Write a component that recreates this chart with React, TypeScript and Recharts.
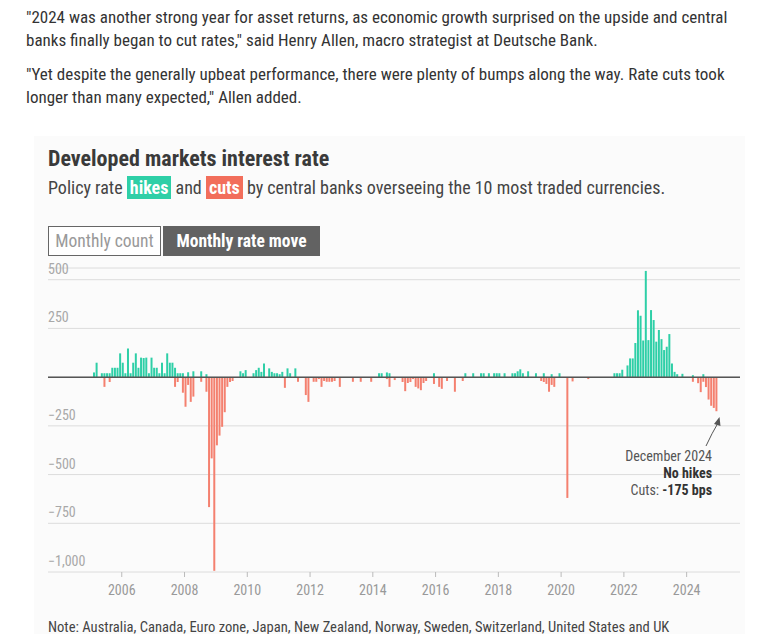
import React from 'react';
import { BarChart, Bar, XAxis, YAxis, CartesianGrid, ReferenceLine } from 'recharts';

// monthly policy-rate moves (bps), summed across the 10 central banks
const hikes2005 = [0, 24, 74, 0, 20, 20, 20, 20, 48, 48, 48, 122];
const cuts2005 = [0, 0, 0, 0, 0, -50, 0, -25, 0, 0, 0, 0];
const hikes2006 = [74, 20, 147, 20, 74, 122, 48, 100, 98, 100, 20, 100];
const cuts2006 = [0, 0, 0, 0, 0, 0, 0, 0, 0, 0, 0, 0];
const hikes2007 = [48, 48, 20, 74, 20, 122, 74, 74, 48, 20, 20, 20];
const cuts2007 = [0, 0, 0, 0, 0, 0, 0, 0, -50, -25, 0, -80];
const hikes2008 = [0, 25, 0, 30, 0, 0, 30, 0, 15, 0, 0, 0];
const cuts2008 = [-152, -40, -127, -100, 0, 0, -24, 0, -75, -667, -417, -994];
const hikes2009 = [0, 0, 0, 0, 0, 0, 0, 0, 0, 30, 20, 36];
const cuts2009 = [-350, -300, -255, -180, -50, -25, -20, 0, 0, 0, 0, 0];
const hikes2010 = [0, 0, 20, 36, 48, 27, 70, 0, 45, 27, 20, 20];
const cuts2010 = [0, 0, 0, 0, 0, 0, 0, 0, 0, 0, 0, 0];
const hikes2011 = [15, 27, 0, 45, 20, 0, 45, 0, 0, 0, 0, 0];
const cuts2011 = [0, 0, -55, 0, 0, 0, 0, -24, 0, 0, -92, -127];
const hikes2012 = [0, 0, 0, 0, 0, 0, 0, 0, 0, 0, 0, 0];
const cuts2012 = [0, -24, -24, -10, -50, -20, -24, -24, -24, -20, 0, -50];
const hikes2013 = [0, 0, 0, 0, 0, 0, 0, 0, 0, 0, 0, 0];
const cuts2013 = [0, 0, 0, 0, -24, 0, 0, -24, 0, 0, 0, -24];
const hikes2014 = [0, 0, 20, 20, 0, 24, 20, 0, 0, 0, 0, 0];
const cuts2014 = [0, 0, 0, 0, 0, -10, -50, 0, -15, 0, 0, -25];
const hikes2015 = [0, 0, 0, 0, 0, 0, 0, 0, 0, 0, 0, 20];
const cuts2015 = [-72, -30, -25, -10, -50, -58, -67, -30, -20, 0, 0, -35];
const hikes2016 = [0, 0, 0, 0, 0, 0, 0, 0, 0, 0, 0, 20];
const cuts2016 = [0, -50, -60, 0, -20, 0, 0, -75, 0, 0, -20, 0];
const hikes2017 = [0, 0, 20, 0, 0, 20, 20, 0, 20, 0, 20, 20];
const cuts2017 = [0, 0, 0, 0, 0, 0, 0, 0, 0, 0, 0, 0];
const hikes2018 = [20, 0, 20, 0, 0, 20, 20, 30, 40, 20, 0, 30];
const cuts2018 = [0, 0, 0, 0, 0, 0, 0, 0, 0, 0, 0, 0];
const hikes2019 = [0, 0, 20, 0, 0, 20, 0, 0, 15, 0, 0, 20];
const cuts2019 = [0, 0, 0, 0, -20, -25, -35, -75, -40, -50, 0, 0];
const hikes2020 = [0, 0, 0, 0, 0, 0, 0, 0, 0, 0, 0, 0];
const cuts2020 = [0, 0, -620, 0, -22, 0, 0, 0, 0, 0, -10, 0];
const hikes2021 = [0, 0, 0, 0, 0, 0, 0, 0, 20, 20, 20, 38];
const cuts2021 = [0, 0, 0, 0, 0, 0, 0, 0, 0, 0, 0, 0];
const hikes2022 = [0, 60, 96, 96, 175, 343, 315, 188, 545, 190, 344, 293];
const cuts2022 = [0, 0, 0, 0, 0, 0, 0, 0, 0, 0, 0, 0];
const hikes2023 = [182, 242, 195, 139, 156, 221, 70, 27, 15, 0, 17, 0];
const cuts2023 = [0, 0, 0, 0, 0, 0, 0, 0, 0, 0, 0, 0];
const hikes2024 = [0, 0, 10, 0, 0, 0, 15, 0, 0, 0, 0, 0];
const cuts2024 = [0, 0, -24, 0, -31, -77, -24, -51, -115, -147, -158, -175];

const years = [
  [2005, hikes2005, cuts2005], [2006, hikes2006, cuts2006], [2007, hikes2007, cuts2007],
  [2008, hikes2008, cuts2008], [2009, hikes2009, cuts2009], [2010, hikes2010, cuts2010],
  [2011, hikes2011, cuts2011], [2012, hikes2012, cuts2012], [2013, hikes2013, cuts2013],
  [2014, hikes2014, cuts2014], [2015, hikes2015, cuts2015], [2016, hikes2016, cuts2016],
  [2017, hikes2017, cuts2017], [2018, hikes2018, cuts2018], [2019, hikes2019, cuts2019],
  [2020, hikes2020, cuts2020], [2021, hikes2021, cuts2021], [2022, hikes2022, cuts2022],
  [2023, hikes2023, cuts2023], [2024, hikes2024, cuts2024],
] as [number, number[], number[]][];

const xTicks = [2006, 2008, 2010, 2012, 2014, 2016, 2018, 2020, 2022, 2024];
const yTicks = [500, 250, 0, -250, -500, -750, -1000];

const data = years.flatMap(([yr, h, c]) =>
  h.map((v, i) => ({ t: yr + (i + 0.5) / 12, hikes: v, cuts: c[i] }))
);

const HIKE = '#2ecfa7';
const CUT = '#f4806f';
const FONT = "'Liberation Sans Narrow', 'Roboto Condensed', Roboto, sans-serif";

const fmt = (v: number) => (v < 0 ? '\u2212' : '') + Math.abs(v).toLocaleString('en-US');

const renderYTick = (props: any) => {
  const { y, payload } = props;
  if (payload.value === 0) return <g />;
  return (
    <text x={48} y={y - 6} fill="#a8a8a8" fontSize={14} fontFamily={FONT} textAnchor="start">
      {fmt(payload.value)}
    </text>
  );
};

export default function App() {
  return (
    <div style={{ position: 'relative', width: 757, height: 642, margin: -8, background: '#fff', fontFamily: FONT, color: '#333', overflow: 'hidden' }}>
      <div style={{ position: 'absolute', left: 26, top: 6, width: 720, fontSize: 17, lineHeight: '23px' }}>
        "2024 was another strong year for asset returns, as economic growth surprised on the upside and central banks finally began to cut rates," said Henry Allen, macro strategist at Deutsche Bank.
      </div>
      <div style={{ position: 'absolute', left: 26, top: 63, width: 720, fontSize: 17, lineHeight: '23px' }}>
        "Yet despite the generally upbeat performance, there were plenty of bumps along the way. Rate cuts took longer than many expected," Allen added.
      </div>

      <div style={{ position: 'absolute', left: 34, top: 136, width: 711, height: 506, background: '#fbfbfb' }} />

      <div style={{ position: 'absolute', left: 48, top: 146, fontSize: 22, fontWeight: 700, color: '#3a3a3a' }}>
        Developed markets interest rate
      </div>
      <div style={{ position: 'absolute', left: 48, top: 176, fontSize: 18, lineHeight: '24px', color: '#444' }}>
        Policy rate{' '}
        <span style={{ background: HIKE, color: '#fff', fontWeight: 700, padding: '1px 3px' }}>hikes</span> and{' '}
        <span style={{ background: '#f26e5b', color: '#fff', fontWeight: 700, padding: '1px 3px' }}>cuts</span> by central banks overseeing the 10 most traded currencies.
      </div>

      <div style={{ position: 'absolute', left: 48, top: 226, width: 111, height: 28, border: '1px solid #666', background: '#fff', color: '#999', fontSize: 17.5, lineHeight: '28px', textAlign: 'center' }}>
        Monthly count
      </div>
      <div style={{ position: 'absolute', left: 163, top: 226, width: 157, height: 30, background: '#626262', color: '#fff', fontWeight: 700, fontSize: 17.5, lineHeight: '30px', textAlign: 'center' }}>
        Monthly rate move
      </div>

      <div style={{ position: 'absolute', left: 0, top: 250 }}>
        <BarChart
          width={757}
          height={370}
          data={data}
          stackOffset="sign"
          margin={{ top: 18, right: 17, left: 47, bottom: 18 }}
        >
          <CartesianGrid vertical={false} stroke="#dcdcdc" />
          <XAxis
            type="number"
            dataKey="t"
            domain={[2003.65, 2025.7]}
            ticks={xTicks}
            interval={0}
            allowDataOverflow
            axisLine={false}
            tickLine={{ stroke: '#bbb' }}
            tickSize={5}
            tickMargin={8}
            height={30}
            tick={{ fill: '#999', fontSize: 14, fontFamily: FONT }}
          />
          <YAxis
            type="number"
            domain={[-1000, 560]}
            ticks={yTicks}
            interval={0}
            allowDataOverflow
            width={1}
            axisLine={false}
            tickLine={false}
            tick={renderYTick}
          />
          <Bar dataKey="hikes" stackId="a" fill={HIKE} barSize={2} isAnimationActive={false} />
          <Bar dataKey="cuts" stackId="a" fill={CUT} barSize={2} isAnimationActive={false} />
          <ReferenceLine y={0} stroke="#555" strokeWidth={1.5} />
        </BarChart>
      </div>

      {/* annotation for the latest month */}
      <svg style={{ position: 'absolute', left: 0, top: 0 }} width={757} height={642}>
        <path d="M706,446 Q712,433 718,423" fill="none" stroke="#555" strokeWidth={1} />
        <path d="M714,424 L719.5,417 L720.5,426 Z" fill="#555" />
      </svg>
      <div style={{ position: 'absolute', right: 757 - 712, top: 448, textAlign: 'right', fontSize: 14, lineHeight: '17px', color: '#555' }}>
        <div>December 2024</div>
        <div style={{ fontWeight: 700, color: '#333' }}>No hikes</div>
        <div>
          Cuts: <b style={{ color: '#333' }}>-175 bps</b>
        </div>
      </div>

      <div style={{ position: 'absolute', left: 48, top: 618, fontSize: 14.6, color: '#444' }}>
        Note: Australia, Canada, Euro zone, Japan, New Zealand, Norway, Sweden, Switzerland, United States and UK
      </div>
    </div>
  );
}
